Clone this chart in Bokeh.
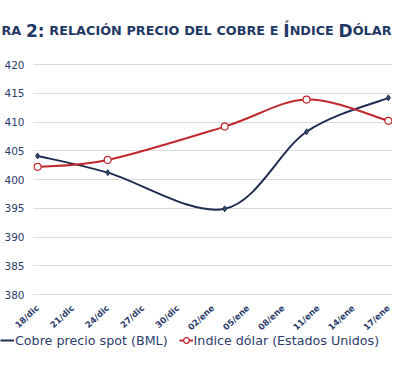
import pandas as pd
from bokeh.plotting import figure
from bokeh.models import Range1d, FixedTicker, Legend, LegendItem, Grid
from bokeh.core.properties import value
from bokeh.embed import file_html
from bokeh.resources import INLINE

# ---- data ----
dates = ["2009-12-18", "2009-12-24", "2010-01-03", "2010-01-10", "2010-01-17"]
cobre = [404.1, 401.2, 394.9, 408.3, 414.2]
dolar = [402.2, 403.4, 409.2, 413.9, 410.2]
tick_dates = ["2009-12-18", "2009-12-21", "2009-12-24", "2009-12-27", "2009-12-30",
              "2010-01-02", "2010-01-05", "2010-01-08", "2010-01-11", "2010-01-14",
              "2010-01-17"]
tick_labels = ["18/dic", "21/dic", "24/dic", "27/dic", "30/dic", "02/ene",
               "05/ene", "08/ene", "11/ene", "14/ene", "17/ene"]
y_ticks = [380, 385, 390, 395, 400, 405, 410, 415, 420]
series_names = ["Cobre precio spot (BML)", "Indice dólar (Estados Unidos)"]
# title in small caps: words, split into (text, large capital?) pieces
title_words = [[("RA", False)], [("2:", True)], [("RELACIÓN", False)],
               [("PRECIO", False)], [("DEL", False)], [("COBRE", False)],
               [("E", False)], [("Í", True), ("NDICE", False)],
               [("D", True), ("ÓLAR", False)]]

# ---- layout / style ----
W, H = 392, 361
BOTTOM_PX = 294             # pixel row of the 380 grid line
PLOT_LEFT = 33              # left end of the grid lines
TOP_PX = 64                 # pixel row of the 420 grid line
LEGEND_TOP = 332
TITLE_X0, TITLE_X1, TITLE_BASE = 1, 391, 30
NAVY = "#1f3864"
TXT = "#2c3d6b"
COBRE_C = "#1f2d52"
DOLAR_C = "#c0282e"
S_SMALL, S_BIG = 12.8, 17
CW = {"A": .774, "B": .762, "C": .734, "D": .830, "E": .683, "I": .372, "L": .637,
      "N": .837, "O": .850, "P": .733, "R": .770, "Í": .372, "Ó": .850,
      "2": .696, ":": .400}

t0 = pd.Timestamp(dates[0])
xs = [(pd.Timestamp(d) - t0).days for d in dates]
xticks = [(pd.Timestamp(d) - t0).days for d in tick_dates]

# ranges chosen so the frame fills the whole canvas
x_lo_plot, x_hi = xticks[0] - 0.35, xticks[-1] + 0.35
ppd = (W - PLOT_LEFT) / (x_hi - x_lo_plot)
x_lo = x_lo_plot - PLOT_LEFT / ppd
ppu = (BOTTOM_PX - TOP_PX) / (y_ticks[-1] - y_ticks[0])
y_hi = y_ticks[-1] + TOP_PX / ppu
y_lo = y_ticks[0] - (H - BOTTOM_PX) / ppu


def bezier_parts(x, y):
    n = len(x)
    out = dict(x0=[], y0=[], x1=[], y1=[], cx0=[], cy0=[], cx1=[], cy1=[])
    for i in range(n - 1):
        pm = max(i - 1, 0)
        pp = min(i + 2, n - 1)
        out["x0"].append(x[i]); out["y0"].append(y[i])
        out["x1"].append(x[i + 1]); out["y1"].append(y[i + 1])
        out["cx0"].append(x[i] + (x[i + 1] - x[pm]) / 6.0)
        out["cy0"].append(y[i] + (y[i + 1] - y[pm]) / 6.0)
        out["cx1"].append(x[i + 1] - (x[pp] - x[i]) / 6.0)
        out["cy1"].append(y[i + 1] - (y[pp] - y[i]) / 6.0)
    return out


p = figure(width=W, height=H, output_backend="svg", toolbar_location=None,
           x_range=Range1d(x_lo, x_hi), y_range=Range1d(y_lo, y_hi),
           min_border=0)
p.extra_x_ranges = {"px": Range1d(0, W)}
p.extra_y_ranges = {"px": Range1d(H, 0)}
p.outline_line_color = None
p.xgrid.grid_line_color = None
p.yaxis.ticker = FixedTicker(ticks=y_ticks)
p.yaxis.fixed_location = x_lo_plot
p.xaxis.ticker = FixedTicker(ticks=xticks)
p.xaxis.fixed_location = y_ticks[0]
p.xaxis.major_label_overrides = {t: l for t, l in zip(xticks, tick_labels)}
for ax in (p.xaxis, p.yaxis):
    ax.axis_line_color = None
    ax.major_tick_line_color = None
    ax.minor_tick_line_color = None
    ax.major_tick_out = 0
    ax.major_tick_in = 0
    ax.minor_tick_out = 0
    ax.major_label_text_color = TXT
    ax.major_label_text_font = "DejaVu Sans"
p.yaxis.major_label_text_font_size = "10.5px"
p.yaxis.major_label_standoff = 9
p.xaxis.major_label_text_font_size = "8.5px"
p.xaxis.major_label_text_font_style = "bold"
p.xaxis.major_label_orientation = 0.75
p.xaxis.major_label_standoff = 12

if "cross_bounds" in Grid.properties():
    p.ygrid.ticker = FixedTicker(ticks=y_ticks)
    p.ygrid.grid_line_color = "#dcdcdc"
    p.ygrid.cross_bounds = (x_lo_plot, x_hi)
else:
    p.ygrid.grid_line_color = None
    p.segment(x0=[x_lo_plot] * len(y_ticks), x1=[x_hi] * len(y_ticks),
              y0=y_ticks, y1=y_ticks, line_color="#dcdcdc", line_width=1)

rc = p.bezier(line_color=COBRE_C, line_width=2, **bezier_parts(xs, cobre))
rd = p.bezier(line_color=DOLAR_C, line_width=2, **bezier_parts(xs, dolar))
p.scatter(xs, cobre, marker="diamond", size=6, fill_color="#3b4a70",
          line_color=COBRE_C)
md = p.scatter(xs, dolar, marker="circle", size=7, fill_color="white",
               line_color=DOLAR_C, line_width=1.2)

# ---- title (small caps imitation), words spread evenly over the width ----
def piece_w(t, big):
    return sum(CW.get(ch, .7) for ch in t) * (S_BIG if big else S_SMALL)


word_w = [sum(piece_w(t, b) for t, b in w) for w in title_words]
gap = (TITLE_X1 - TITLE_X0 - sum(word_w)) / (len(title_words) - 1)
tx = {False: [], True: []}
tt = {False: [], True: []}
cur = TITLE_X0
for word, ww in zip(title_words, word_w):
    px = cur
    for t, b in word:
        tx[b].append(px); tt[b].append(t)
        px += piece_w(t, b)
    cur += ww + gap
for b in (False, True):
    p.text(x=tx[b], y=[TITLE_BASE] * len(tx[b]), text=tt[b], x_range_name="px",
           y_range_name="px", text_font=value("DejaVu Sans"),
           text_font_style="bold", text_color=NAVY,
           text_font_size=f"{S_BIG if b else S_SMALL}px",
           text_baseline="alphabetic", text_align="left")

legend = Legend(items=[LegendItem(label=series_names[0], renderers=[rc]),
                       LegendItem(label=series_names[1], renderers=[rd, md])],
                orientation="horizontal", location=(0, H - LEGEND_TOP - 16),
                glyph_width=14, glyph_height=16, label_standoff=1, spacing=11,
                padding=0, margin=0, border_line_color=None,
                background_fill_alpha=0,
                label_text_font="DejaVu Sans", label_text_font_size="12.7px",
                label_text_color=TXT, label_height=16)
p.add_layout(legend)

open("out.html", "w").write(file_html(p, INLINE))
